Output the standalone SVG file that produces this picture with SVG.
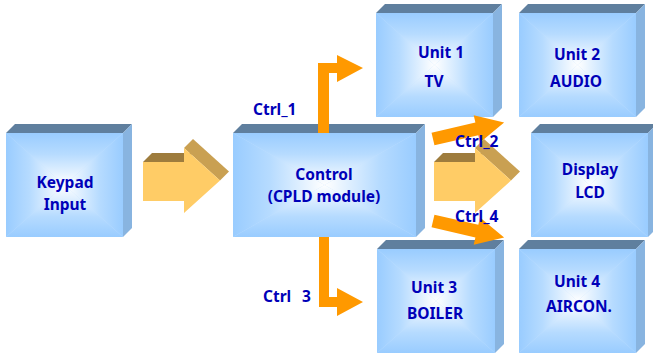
<svg xmlns="http://www.w3.org/2000/svg" width="653" height="356" viewBox="0 0 653 356">
  <defs>
    <!-- rectangular "from centre" fill built from four edge triangles -->
    <linearGradient id="gT" x1="0" y1="0" x2="0" y2="1">
      <stop offset="0" stop-color="#99ccff"/>
      <stop offset="0.4" stop-color="#b6dbff"/>
      <stop offset="1" stop-color="#ffffff"/>
    </linearGradient>
    <linearGradient id="gB" x1="0" y1="1" x2="0" y2="0">
      <stop offset="0" stop-color="#99ccff"/>
      <stop offset="0.4" stop-color="#b6dbff"/>
      <stop offset="1" stop-color="#ffffff"/>
    </linearGradient>
    <linearGradient id="gL" x1="0" y1="0" x2="1" y2="0">
      <stop offset="0" stop-color="#99ccff"/>
      <stop offset="0.4" stop-color="#b6dbff"/>
      <stop offset="1" stop-color="#ffffff"/>
    </linearGradient>
    <linearGradient id="gR" x1="1" y1="0" x2="0" y2="0">
      <stop offset="0" stop-color="#99ccff"/>
      <stop offset="0.4" stop-color="#b6dbff"/>
      <stop offset="1" stop-color="#ffffff"/>
    </linearGradient>
    <!-- 3D block arrow -->
    <g id="blockArrow">
      <polygon class="ba-top" points="143,162 152,153 193,153 184,162"/>
      <polygon class="ba-head" points="184,148 193,139 229,171.5 220,180.5"/>
      <polygon class="ba-front" points="143,162 184,162 184,148 220,180.5 184,213 184,201 143,201"/>
    </g>
  </defs>
  <style>
    .top { fill: #5f7f9e; }
    .side { fill: #88b4e0; }
    .base { fill: #c4e1ff; }
    .t { fill: url(#gT); }
    .b { fill: url(#gB); }
    .l { fill: url(#gL); }
    .r { fill: url(#gR); }
    text { font-family: "Noto Sans", "DejaVu Sans", sans-serif; font-weight: bold; font-size: 15.5px; fill: #0000b8; }
    .c { text-anchor: middle; }
    .ba-top { fill: #9e7c3d; }
    .ba-head { fill: #c9a052; }
    .ba-front { fill: #ffcc66; }
    .ctrl { fill: #ff9900; }
  </style>

  <rect width="653" height="356" fill="#ffffff"/>

  <!-- Keypad: front 6,133 117x104 -->
  <g id="keypad">
    <polygon class="top" points="6,133 15,124 132,124 123,133"/>
    <polygon class="side" points="123,133 132,124 132,228 123,237"/>
    <rect class="base" x="6" y="133" width="117" height="104"/>
    <polygon class="t" points="6,133 123,133 64.5,185"/>
    <polygon class="b" points="6,237 123,237 64.5,185"/>
    <polygon class="l" points="6,133 6,237 64.5,185"/>
    <polygon class="r" points="123,133 123,237 64.5,185"/>
    <text class="c" x="65" y="188">Keypad</text>
    <text class="c" x="65" y="210">Input</text>
  </g>

  <!-- Control: front 233,133 183x104 -->
  <g id="control">
    <polygon class="top" points="233,133 242,124 425,124 416,133"/>
    <polygon class="side" points="416,133 425,124 425,228 416,237"/>
    <rect class="base" x="233" y="133" width="183" height="104"/>
    <polygon class="t" points="233,133 416,133 324.5,185"/>
    <polygon class="b" points="233,237 416,237 324.5,185"/>
    <polygon class="l" points="233,133 233,237 324.5,185"/>
    <polygon class="r" points="416,133 416,237 324.5,185"/>
    <text class="c" x="324" y="180">Control</text>
    <text class="c" x="324" y="202">(CPLD module)</text>
  </g>

  <!-- Unit 1: front 376,13 117x104 -->
  <g id="unit1">
    <polygon class="top" points="376,13 385,4 502,4 493,13"/>
    <polygon class="side" points="493,13 502,4 502,108 493,117"/>
    <rect class="base" x="376" y="13" width="117" height="104"/>
    <polygon class="t" points="376,13 493,13 434.5,65"/>
    <polygon class="b" points="376,117 493,117 434.5,65"/>
    <polygon class="l" points="376,13 376,117 434.5,65"/>
    <polygon class="r" points="493,13 493,117 434.5,65"/>
    <text class="c" x="441" y="58">Unit 1</text>
    <text class="c" x="434" y="87">TV</text>
  </g>

  <!-- Unit 2: front 519,13 117x104 -->
  <g id="unit2">
    <polygon class="top" points="519,13 528,4 645,4 636,13"/>
    <polygon class="side" points="636,13 645,4 645,108 636,117"/>
    <rect class="base" x="519" y="13" width="117" height="104"/>
    <polygon class="t" points="519,13 636,13 577.5,65"/>
    <polygon class="b" points="519,117 636,117 577.5,65"/>
    <polygon class="l" points="519,13 519,117 577.5,65"/>
    <polygon class="r" points="636,13 636,117 577.5,65"/>
    <text class="c" x="577" y="60">Unit 2</text>
    <text class="c" x="576" y="87">AUDIO</text>
  </g>

  <!-- Display: front 531,133 117x104 -->
  <g id="display">
    <polygon class="top" points="531,133 540,124 657,124 648,133"/>
    <polygon class="side" points="648,133 657,124 657,228 648,237"/>
    <rect class="base" x="531" y="133" width="117" height="104"/>
    <polygon class="t" points="531,133 648,133 589.5,185"/>
    <polygon class="b" points="531,237 648,237 589.5,185"/>
    <polygon class="l" points="531,133 531,237 589.5,185"/>
    <polygon class="r" points="648,133 648,237 589.5,185"/>
    <text class="c" x="590" y="175">Display</text>
    <text class="c" x="590" y="198">LCD</text>
  </g>

  <!-- Unit 3: front 377,249 118x104 -->
  <g id="unit3">
    <polygon class="top" points="377,249 386,240 504,240 495,249"/>
    <polygon class="side" points="495,249 504,240 504,344 495,353"/>
    <rect class="base" x="377" y="249" width="118" height="104"/>
    <polygon class="t" points="377,249 495,249 436,301"/>
    <polygon class="b" points="377,353 495,353 436,301"/>
    <polygon class="l" points="377,249 377,353 436,301"/>
    <polygon class="r" points="495,249 495,353 436,301"/>
    <text class="c" x="434" y="293">Unit 3</text>
    <text class="c" x="435" y="319">BOILER</text>
  </g>

  <!-- Unit 4: front 519,249 117x104 -->
  <g id="unit4">
    <polygon class="top" points="519,249 528,240 645,240 636,249"/>
    <polygon class="side" points="636,249 645,240 645,344 636,353"/>
    <rect class="base" x="519" y="249" width="117" height="104"/>
    <polygon class="t" points="519,249 636,249 577.5,301"/>
    <polygon class="b" points="519,353 636,353 577.5,301"/>
    <polygon class="l" points="519,249 519,353 577.5,301"/>
    <polygon class="r" points="636,249 636,353 577.5,301"/>
    <text class="c" x="577" y="287">Unit 4</text>
    <text class="c" x="579" y="312">AIRCON.</text>
  </g>

  <!-- connectors -->
  <g id="connectors">
    <use href="#blockArrow"/>
    <use href="#blockArrow" transform="translate(291,0)"/>
    <!-- Ctrl_1: up from Control, then right to Unit 1 -->
    <polygon class="ctrl" points="318,133 318,63 337,63 337,55 363,68 337,82 337,73 329,73 329,133"/>
    <!-- Ctrl_3: down from Control, then right to Unit 3 -->
    <polygon class="ctrl" points="319,237 329,237 329,297 337,297 337,288 363,302 337,316 337,307 319,307"/>
    <!-- Ctrl_2 / Ctrl_4: slanted arrows toward the display column -->
    <polygon class="ctrl" transform="translate(433,139) rotate(-13)" points="0,-6.5 45,-6.5 45,-14 73,0 45,14 45,6.5 0,6.5"/>
    <polygon class="ctrl" transform="translate(433,221) rotate(13)" points="0,-6.5 45,-6.5 45,-14 73,0 45,14 45,6.5 0,6.5"/>
  </g>

  <!-- connector labels -->
  <g id="labels">
    <text x="253" y="115">Ctrl_1</text>
    <text x="455" y="147">Ctrl_2</text>
    <text x="455" y="222">Ctrl_4</text>
    <text x="263" y="302">Ctrl</text>
    <text x="302" y="302">3</text>
  </g>
</svg>
